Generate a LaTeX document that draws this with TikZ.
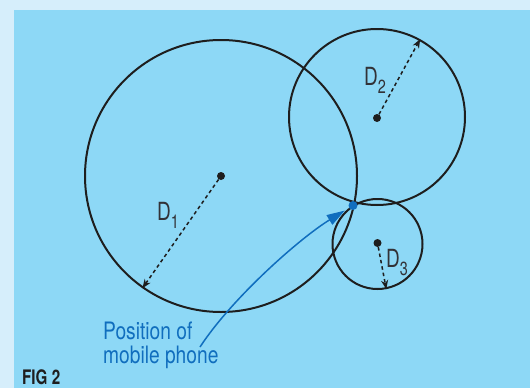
\documentclass[tikz,border=0pt]{standalone}
\usepackage{fontspec}
\usetikzlibrary{arrows.meta}
\newfontfamily\cond{TeX Gyre Heros}[FakeStretch=0.76]
\newfontfamily\condb{TeX Gyre Heros}[FakeStretch=0.8]
\definecolor{lightbg}{RGB}{214,238,251}
\definecolor{bluebg}{RGB}{141,216,246}
\definecolor{phoneblue}{RGB}{16,110,190}
\definecolor{ink}{RGB}{30,30,30}
\definecolor{labgray}{RGB}{50,50,55}
\newcommand{\Dsub}[1]{D\raisebox{-8pt}{\fontsize{19}{19}\selectfont #1}}
\begin{document}
\begin{tikzpicture}[x=1pt,y=-1pt,
  ring/.style={circle,draw=ink,line width=2pt,inner sep=0pt},
  cdot/.style={circle,fill=ink,inner sep=0pt,minimum size=8pt},
  radarrow/.style={draw=ink,line width=1.5pt,dash pattern=on 3.5pt off 3pt,-{Stealth[length=9pt,width=7pt]}},
  dlabel/.style={anchor=base west,inner sep=0pt,text=labgray,font=\cond\fontsize{25}{25}\selectfont},
  bluetext/.style={anchor=base west,inner sep=0pt,text=phoneblue,font=\condb\fontsize{24}{24}\selectfont},
  pointer/.style={draw=phoneblue,line width=1.5pt,-{Triangle[length=18pt,width=11pt]},shorten >=5pt}]
\useasboundingbox (0,0) rectangle (530,388);
\fill[lightbg] (0,0) rectangle (530,388);
\fill[bluebg] (14,10) rectangle (530,388);
% circles
\node[ring,minimum size=272pt] (C1) at (221,176) {};
\node[ring,minimum size=176pt] (C2) at (377,117) {};
\node[ring,minimum size=90pt] (C3) at (377.5,244) {};
% centers
\node[cdot] (c1) at (221,176) {};
\node[cdot] (c2) at (377,118) {};
\node[cdot] (c3) at (377.5,243) {};
% radius arrows
\draw[radarrow] (c1) -- (C1.235.5);
\draw[radarrow] (c2) -- (C2.61.6);
\draw[radarrow] (c3) -- (C3.281.6);
% labels
\node[dlabel] (d1) at (157,220) {\Dsub{1}};
\node[dlabel] (d2) at (364,85) {\Dsub{2}};
\node[dlabel] (d3) at (386,267) {\Dsub{3}};
% phone position
\node[circle,fill=phoneblue,inner sep=0pt,minimum size=9pt] (phone) at (353,205.5) {};
\node[bluetext] (ptext1) at (103,339) {Position of};
\node[bluetext] (ptext2) at (103,363) {mobile phone};
\coordinate (s) at (200,347);
\draw[pointer] (s) .. controls (232,298) and (300,238) .. (phone);
% figure label
\node[anchor=base west,inner sep=0pt,text depth=0pt,text=ink,font=\cond\bfseries\fontsize{20}{20}\selectfont] (fig) at (22,384) {FIG 2};
\end{tikzpicture}
\end{document}
